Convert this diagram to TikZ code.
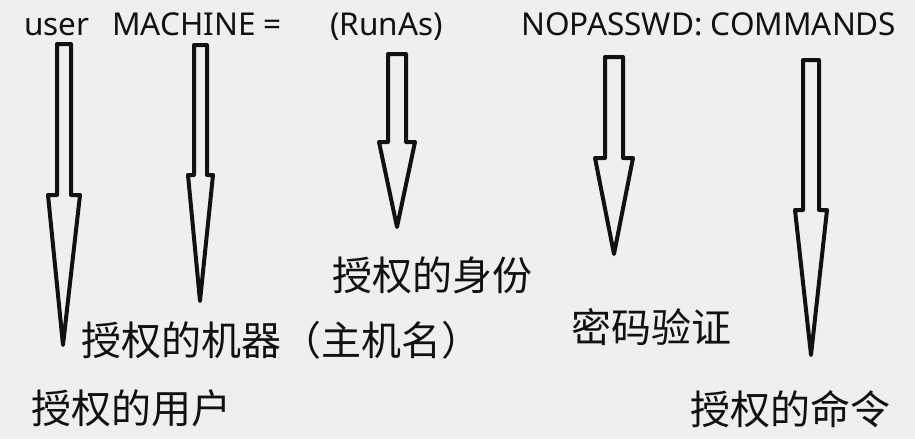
\documentclass[tikz,border=0pt]{standalone}
\usepackage{fontspec}
\setmainfont{Noto Sans}
\newfontfamily\cjk{Noto Sans CJK SC}
\definecolor{bgc}{RGB}{239,239,239}
\definecolor{ink}{RGB}{17,17,17}
\tikzset{
  lat/.style={anchor=base west, inner sep=0pt, text=ink, font=\fontsize{31.5}{36}\selectfont},
  zh/.style={anchor=center, inner sep=0pt, text=ink, font=\cjk\fontsize{40}{48}\selectfont},
  blk/.style={draw=ink, line width=4pt, line join=round, fill=bgc}
}
\begin{document}
\begin{tikzpicture}[x=1pt,y=-1pt]
\fill[bgc] (0,0) rectangle (915,439);
\useasboundingbox (0,0) rectangle (915,439);
% top row
\node[lat] (user) at (24,35) {user};
\node[lat] (mach) at (112,35) {MACHINE =};
\node[lat] (runas) at (330,35) {(RunAs)};
\node[lat] (cmds) at (521,35) {NOPASSWD: COMMANDS};
% block arrows
\draw[blk] (57,44) -- (71,44) -- (71,195) -- (80,195) -- (63,345) -- (48,195) -- (57,195) -- cycle;
\draw[blk] (194,45) -- (207,45) -- (207,175) -- (213,175) -- (200,301) -- (188,175) -- (194,175) -- cycle;
\draw[blk] (388,54) -- (406,54) -- (406,142) -- (415,142) -- (397,227) -- (379,142) -- (388,142) -- cycle;
\draw[blk] (605,57) -- (623,57) -- (623,158) -- (633,158) -- (614,254) -- (595,158) -- (605,158) -- cycle;
\draw[blk] (803,60) -- (819,60) -- (819,210) -- (827,210) -- (811,355) -- (795,210) -- (803,210) -- cycle;
% labels
\node[zh] (id) at (432,275) {授权的身份};
\node[zh] (host) at (281,340) {授权的机器（主机名）};
\node[zh] (usr) at (131,408) {授权的用户};
\node[zh] (pw) at (651,327) {密码验证};
\node[zh] (cmd) at (790,409) {授权的命令};
\end{tikzpicture}
\end{document}
